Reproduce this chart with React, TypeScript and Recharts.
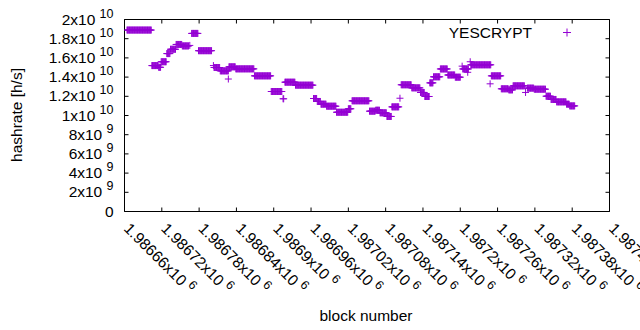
import React from "react";
import { ScatterChart, Scatter, XAxis, YAxis, Legend } from "recharts";

const PURPLE = "#9400d3";
const FONT = "'Liberation Sans', Arial, sans-serif";
const FS = 15.5;
const FS_SUP = 12.5;

// runs of consecutive blocks sharing one hashrate value (h/s)
const runStart = [
  1986664, 1986704, 1986715, 1986719, 1986728, 1986734, 1986743, 1986753, 1986768, 1986779,
  1986804, 1986814, 1986828, 1986839, 1986869, 1986896, 1986915, 1986918, 1986935, 1986964,
  1986970, 1986976, 1986985, 1987001, 1987020, 1987026, 1987054, 1987064, 1987071, 1987082,
  1987090, 1987105, 1987122, 1987136, 1987143, 1987151, 1987157, 1987168, 1987180, 1987192,
  1987204, 1987217, 1987250, 1987266, 1987278, 1987285, 1987308, 1987319, 1987338, 1987346,
  1987355, 1987371, 1987376,
];
const runEnd = [
  1986703, 1986714, 1986718, 1986727, 1986733, 1986742, 1986752, 1986763, 1986778, 1986800,
  1986813, 1986827, 1986838, 1986868, 1986895, 1986913, 1986916, 1986934, 1986963, 1986969,
  1986975, 1986984, 1987000, 1987019, 1987024, 1987053, 1987063, 1987070, 1987081, 1987089,
  1987101, 1987121, 1987135, 1987142, 1987150, 1987156, 1987167, 1987179, 1987191, 1987200,
  1987213, 1987249, 1987265, 1987277, 1987284, 1987303, 1987318, 1987337, 1987345, 1987354,
  1987370, 1987375, 1987384,
];
const runRate = [
  18.9e9, 15.2e9, 15.02e9, 15.6e9, 16.45e9, 16.9e9, 17.4e9, 17.25e9, 18.55e9, 16.75e9,
  15.0e9, 14.65e9, 15.07e9, 14.86e9, 14.13e9, 12.5e9, 11.74e9, 13.47e9, 13.16e9, 11.77e9,
  11.46e9, 11.18e9, 10.97e9, 10.34e9, 10.7e9, 11.53e9, 10.45e9, 10.55e9, 10.28e9, 9.9e9,
  10.9e9, 13.2e9, 12.88e9, 12.4e9, 11.98e9, 13.4e9, 14.03e9, 14.85e9, 14.22e9, 13.99e9,
  14.85e9, 15.28e9, 14.13e9, 12.78e9, 12.67e9, 13.09e9, 12.85e9, 12.74e9, 12.01e9, 11.67e9,
  11.42e9, 11.18e9, 11.0e9,
];

// isolated samples
const singleBlock = [1986765, 1986803, 1986827, 1987103, 1987203, 1987212, 1987216, 1987248, 1987305];
const singleRate = [17.3e9, 15.2e9, 13.8e9, 11.8e9, 15.14e9, 14.5e9, 15.6e9, 13.3e9, 12.4e9];

const xTicks = [
  1986660, 1986720, 1986780, 1986840, 1986900, 1986960, 1987020,
  1987080, 1987140, 1987200, 1987260, 1987320, 1987380, 1987440,
];
const xTickLabels = [
  "1.98666x10", "1.98672x10", "1.98678x10", "1.98684x10", "1.9869x10", "1.98696x10", "1.98702x10",
  "1.98708x10", "1.98714x10", "1.9872x10", "1.98726x10", "1.98732x10", "1.98738x10", "1.98744x10",
];
const xTickExp = "6";

const yTicks = [0, 2e9, 4e9, 6e9, 8e9, 1e10, 1.2e10, 1.4e10, 1.6e10, 1.8e10, 2e10];
const yTickBase = ["0", "2x10", "4x10", "6x10", "8x10", "1x10", "1.2x10", "1.4x10", "1.6x10", "1.8x10", "2x10"];
const yTickExp = ["", "9", "9", "9", "9", "10", "10", "10", "10", "10", "10"];

const data: { block: number; rate: number }[] = [];
runStart.forEach((s, i) => {
  for (let b = s; b <= runEnd[i]; b++) data.push({ block: b, rate: runRate[i] });
});
singleBlock.forEach((b, i) => data.push({ block: b, rate: singleRate[i] }));

function Plus(props: any) {
  const { cx, cy } = props;
  if (cx == null || cy == null) return null;
  return (
    <path d={`M${cx - 3.5},${cy}h7M${cx},${cy - 3.5}v7`} stroke={PURPLE} strokeWidth={1} fill="none" />
  );
}

function BottomTick(props: any) {
  const { x, y, index } = props;
  const tx = x - 1.5;
  const ty = y + 18;
  return (
    <g>
      <line x1={x} y1={y} x2={x} y2={y - 4} stroke="#000" />
      <text x={tx} y={ty} transform={`rotate(45 ${tx} ${ty})`} fontSize={FS} fill="#000" style={{ whiteSpace: "pre" }}>
        {xTickLabels[index] + " "}
        <tspan fontSize={FS_SUP} dy={-6}>{xTickExp}</tspan>
      </text>
    </g>
  );
}

function TopTick(props: any) {
  const { x, y } = props;
  return <line x1={x} y1={y} x2={x} y2={y + 4} stroke="#000" />;
}

function LeftTick(props: any) {
  const { x, y, index } = props;
  const exp = yTickExp[index];
  return (
    <g>
      <line x1={x} y1={y} x2={x + 4} y2={y} stroke="#000" />
      <text x={x - 11} y={y + 5} textAnchor="end" fontSize={FS} fill="#000" style={{ whiteSpace: "pre" }}>
        {exp ? yTickBase[index] + " " : yTickBase[index]}
        {exp ? <tspan fontSize={FS_SUP} dy={-7}>{exp}</tspan> : null}
      </text>
    </g>
  );
}

function RightTick(props: any) {
  const { x, y } = props;
  return <line x1={x} y1={y} x2={x - 4} y2={y} stroke="#000" />;
}

function LegendBox() {
  return (
    <svg width={160} height={26} style={{ fontFamily: FONT, overflow: "visible" }}>
      <text x={92} y={17.5} textAnchor="end" fontSize={FS} fill="#000">YESCRYPT</text>
      <path d="M123,12.5h8M127,8.5v8" stroke={PURPLE} strokeWidth={1} fill="none" />
    </svg>
  );
}

export default function App() {
  return (
    <div style={{ position: "absolute", left: 0, top: 0, background: "#fff" }}>
      <ScatterChart
        width={640}
        height={330}
        margin={{ top: 18.5, right: 29.5, bottom: 117.5, left: 123.5 }}
        style={{ fontFamily: FONT }}
      >
        <XAxis
          xAxisId="b"
          type="number"
          dataKey="block"
          domain={[1986660, 1987440]}
          ticks={xTicks}
          interval={0}
          allowDataOverflow
          height={1}
          tickSize={0}
          tickMargin={0}
          tickLine={false}
          axisLine={{ stroke: "#000" }}
          tick={(p: any) => <BottomTick {...p} />}
          label={{
            content: () => (
              <text x={366} y={321} textAnchor="middle" fontSize={FS} fill="#000">block number</text>
            ),
          }}
        />
        <XAxis
          xAxisId="t"
          orientation="top"
          type="number"
          dataKey="block"
          domain={[1986660, 1987440]}
          ticks={xTicks}
          interval={0}
          allowDataOverflow
          height={1}
          tickSize={0}
          tickMargin={0}
          tickLine={false}
          axisLine={{ stroke: "#000" }}
          tick={(p: any) => <TopTick {...p} />}
        />
        <YAxis
          yAxisId="h"
          type="number"
          dataKey="rate"
          domain={[0, 2e10]}
          ticks={yTicks}
          interval={0}
          allowDataOverflow
          width={1}
          tickSize={0}
          tickMargin={0}
          tickLine={false}
          axisLine={{ stroke: "#000" }}
          tick={(p: any) => <LeftTick {...p} />}
          label={{
            content: () => (
              <text x={22} y={115} transform="rotate(-90 22 115)" textAnchor="middle" fontSize={FS} fill="#000">
                hashrate [h/s]
              </text>
            ),
          }}
        />
        <YAxis
          yAxisId="r"
          orientation="right"
          type="number"
          dataKey="rate"
          domain={[0, 2e10]}
          ticks={yTicks}
          interval={0}
          allowDataOverflow
          width={1}
          tickSize={0}
          tickMargin={0}
          tickLine={false}
          axisLine={{ stroke: "#000" }}
          tick={(p: any) => <RightTick {...p} />}
        />
        <Legend
          layout="horizontal"
          align="center"
          verticalAlign="middle"
          content={() => <LegendBox />}
          wrapperStyle={{ position: "absolute", left: 440, top: 20, width: 160, height: 26 }}
        />
        <Scatter
          xAxisId="b"
          yAxisId="h"
          name="YESCRYPT"
          data={data}
          shape={(p: any) => <Plus {...p} />}
          isAnimationActive={false}
        />
      </ScatterChart>
    </div>
  );
}
